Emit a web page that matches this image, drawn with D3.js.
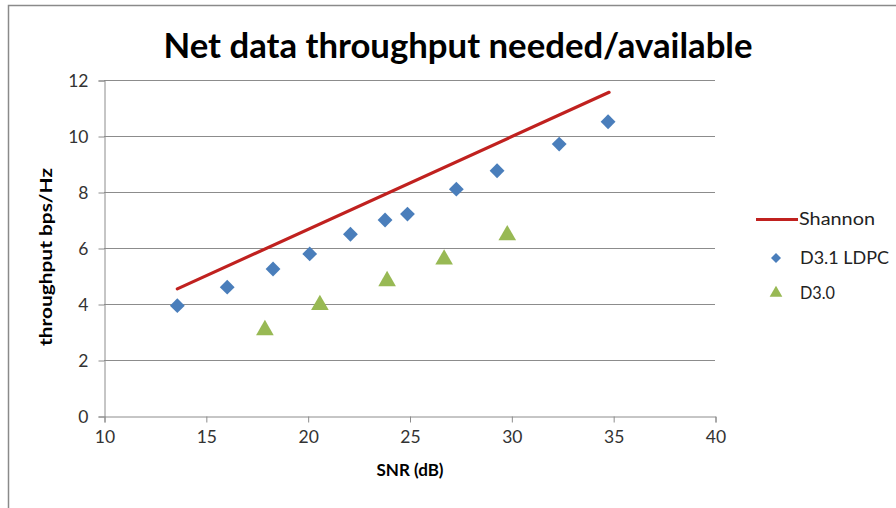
<!DOCTYPE html>
<html><head><meta charset="utf-8">
<script src="https://cdn.jsdelivr.net/npm/d3@7"></script>
<style>body{margin:0;background:#fff}svg{display:block}</style>
</head><body>
<svg id="c" width="896" height="508"></svg>
<script>
const title = "Net data throughput needed/available";
const xTicks = [10,15,20,25,30,35,40];
const yTicks = [0,2,4,6,8,10,12];
const shannonSNR = [13.6, 34.8];
const shannonTP = [4.54, 11.56];
const ldpcSNR = [13.6, 16.05, 18.3, 20.1, 22.1, 23.8, 24.9, 27.3, 29.3, 32.35, 34.75];
const ldpcTP  = [3.94, 4.6, 5.25, 5.79, 6.49, 7.0, 7.21, 8.1, 8.76, 9.71, 10.51];
const d30SNR = [17.9, 20.6, 23.9, 26.7, 29.8];
const d30TP  = [3.07, 3.97, 4.82, 5.59, 6.46];
const seriesNames = ["Shannon", "D3.1 LDPC", "D3.0"];

const svg = d3.select("#c");
const font = "Lato, 'Open Sans', sans-serif";
const L=104, R=715, T=80, B=416;
const x = d3.scaleLinear().domain([10,40]).range([L,R]);
const y = d3.scaleLinear().domain([0,12]).range([B,T]);
const gridC = "#8c8c8c";

// frame
svg.append("path").attr("d","M8.5,508 V5.5 H896").attr("fill","none").attr("stroke","#8a8a8a").attr("stroke-width",1.5);

// title
svg.append("text").attr("x",458).attr("y",58).attr("text-anchor","middle")
  .attr("font-family",font).attr("font-weight","bold").attr("font-size",34).attr("fill","#000")
  .attr("textLength",589).attr("lengthAdjust","spacingAndGlyphs")
  .text(title);

// gridlines
svg.append("g").selectAll("line").data(yTicks.filter(d=>d>0)).join("line")
  .attr("x1",L).attr("x2",R).attr("y1",d=>Math.round(y(d))+0.5).attr("y2",d=>Math.round(y(d))+0.5)
  .attr("stroke",gridC).attr("stroke-width",1);

// axes
const yAxis = d3.axisLeft(y).tickValues(yTicks).tickSize(6).tickPadding(10);
const gy = svg.append("g").attr("transform",`translate(${L+0.5},0.5)`).call(yAxis);
const xAxis = d3.axisBottom(x).tickValues(xTicks).tickSize(6).tickPadding(7);
const gx = svg.append("g").attr("transform",`translate(0.5,${B+0.5})`).call(xAxis);
[gx,gy].forEach(g=>{
  g.select(".domain").attr("stroke",gridC);
  g.selectAll(".tick line").attr("stroke",gridC);
  g.selectAll("text").attr("font-family",font).attr("font-size",17.5).attr("fill","#333");
});
gy.selectAll(".tick text").attr("dy","0.35em");
gx.selectAll(".tick text").attr("dy","0.75em");

// axis titles
svg.append("text").attr("x",410).attr("y",476).attr("text-anchor","middle")
  .attr("font-family",font).attr("font-weight","bold").attr("font-size",17).attr("fill","#000")
  .text("SNR (dB)");
svg.append("text").attr("transform","translate(52,257) rotate(-90)").attr("text-anchor","middle")
  .attr("font-family",font).attr("font-weight","bold").attr("font-size",17).attr("fill","#000")
  .attr("textLength",178).attr("lengthAdjust","spacingAndGlyphs").text("throughput bps/Hz");

const red="#c0211f", blue="#4a7ebb", green="#98b954";

// Shannon line
const line = d3.line().x(d=>x(d[0])).y(d=>y(d[1]));
svg.append("path").datum(shannonSNR.map((s,i)=>[s,shannonTP[i]])).attr("d",line)
  .attr("fill","none").attr("stroke",red).attr("stroke-width",3.2).attr("stroke-linecap","round");

// LDPC diamonds
const diamond = d3.symbol().type(d3.symbolSquare).size(110);
svg.append("g").selectAll("path").data(ldpcSNR.map((s,i)=>[s,ldpcTP[i]])).join("path")
  .attr("d",diamond()).attr("transform",d=>`translate(${x(d[0])},${y(d[1])}) rotate(45)`).attr("fill",blue);

// D3.0 triangles
const tri = d3.symbol().type(d3.symbolTriangle).size(135);
svg.append("g").selectAll("path").data(d30SNR.map((s,i)=>[s,d30TP[i]])).join("path")
  .attr("d",tri()).attr("transform",d=>`translate(${x(d[0])},${y(d[1])})`).attr("fill",green);

// legend
const lg = svg.append("g").attr("font-family",font).attr("font-size",18).attr("fill","#222");
lg.append("line").attr("x1",756).attr("x2",798).attr("y1",219.5).attr("y2",219.5).attr("stroke",red).attr("stroke-width",3.2);
lg.append("text").attr("x",799).attr("y",219).attr("dy","0.35em").attr("textLength",76).attr("lengthAdjust","spacingAndGlyphs").text(seriesNames[0]);
lg.append("path").attr("d",d3.symbol().type(d3.symbolSquare).size(50)()).attr("transform","translate(776,258) rotate(45)").attr("fill",blue);
lg.append("text").attr("x",800).attr("y",258).attr("dy","0.35em").attr("textLength",89).attr("lengthAdjust","spacingAndGlyphs").text(seriesNames[1]);
lg.append("path").attr("d",d3.symbol().type(d3.symbolTriangle).size(70)()).attr("transform","translate(776,293)").attr("fill",green);
lg.append("text").attr("x",800).attr("y",293).attr("dy","0.35em").attr("textLength",35).attr("lengthAdjust","spacingAndGlyphs").text(seriesNames[2]);
</script>
</body></html>
